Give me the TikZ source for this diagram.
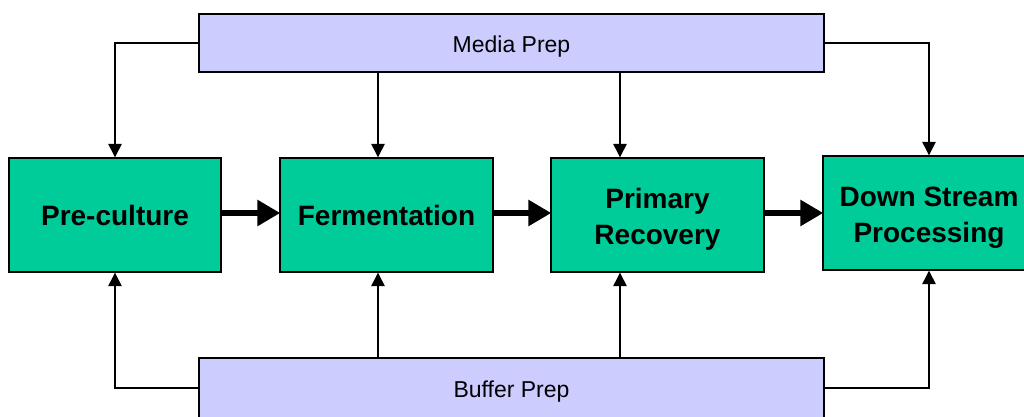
\documentclass[tikz,border=0pt]{standalone}
\usepackage{fontspec}
\setmainfont{Liberation Sans}
\usetikzlibrary{arrows.meta}
\definecolor{stagegreen}{RGB}{0,204,153}
\definecolor{preplav}{RGB}{204,204,255}
\tikzset{
  stage/.style={draw=black, line width=1.4pt, fill=stagegreen, inner sep=0pt,
    align=center, font=\fontsize{28}{36}\selectfont\bfseries,
    text height=20pt, text depth=0pt},
  twoline/.style={text height=58pt, text depth=0pt},
  prepbox/.style={draw=black, line width=1.4pt, fill=preplav, inner sep=0pt,
    font=\fontsize{23}{27}\selectfont, text height=18.5pt, text depth=0pt},
  feed/.style={line width=1.3pt, -{Triangle[length=13.5pt,width=13.5pt]}},
  flow/.style={line width=6pt, -{Triangle[length=23pt,width=25pt]}, shorten >=-1pt}
}
\begin{document}
\begin{tikzpicture}[x=1pt,y=-1pt]
  \useasboundingbox (0,0) rectangle (1024,416);
  \clip (0,0) rectangle (1024,416);

  % process stages
  \node[stage, minimum width=212pt, minimum height=114pt] (pc) at (115,215) {Pre-culture};
  \node[stage, minimum width=213pt, minimum height=114pt] (fer) at (386.5,215) {Fermentation};
  \node[stage, twoline, minimum width=213pt, minimum height=114pt] (pr) at (657.5,215) {Primary\\Recovery};
  \node[stage, twoline, minimum width=212pt, minimum height=114pt] (ds) at (929,213) {Down Stream\\Processing};

  % supply preparations
  \node[prepbox, minimum width=625pt, minimum height=58pt] (media) at (511.5,43) {Media Prep};
  \node[prepbox, minimum width=625pt, minimum height=60pt] (buffer) at (511.5,388) {Buffer Prep};

  % feed columns
  \coordinate (cf) at (378,0);
  \coordinate (cp) at (620,0);

  % media supply lines
  \draw[feed] (media.west) -| (pc.north);
  \draw[feed] (media.south -| cf) -- (fer.north -| cf);
  \draw[feed] (media.south -| cp) -- (pr.north -| cp);
  \draw[feed] (media.east) -| (ds.north);

  % buffer supply lines
  \draw[feed] (buffer.west) -| (pc.south);
  \draw[feed] (buffer.north -| cf) -- (fer.south -| cf);
  \draw[feed] (buffer.north -| cp) -- (pr.south -| cp);
  \draw[feed] (buffer.east) -| (ds.south);

  % main process flow
  \draw[flow] ([yshift=2pt]pc.east) -- ([yshift=2pt]pc.east -| fer.west);
  \draw[flow] ([yshift=2pt]fer.east) -- ([yshift=2pt]fer.east -| pr.west);
  \draw[flow] ([yshift=2pt]pr.east) -- ([yshift=2pt]pr.east -| ds.west);
\end{tikzpicture}
\end{document}
